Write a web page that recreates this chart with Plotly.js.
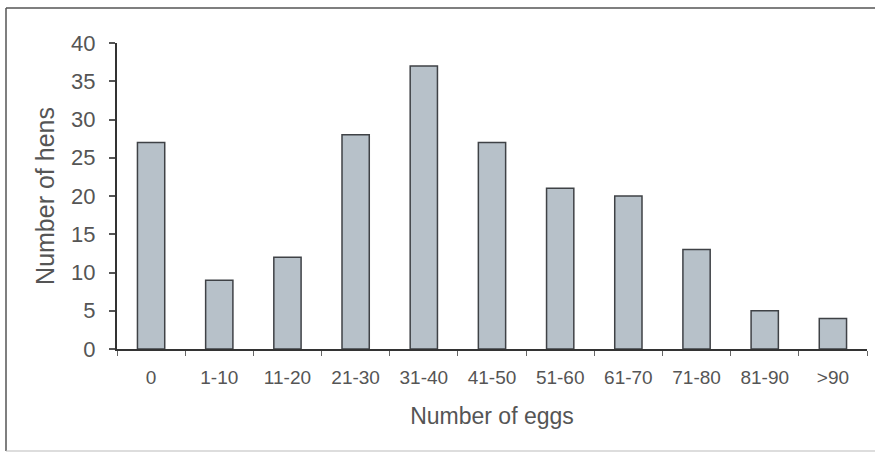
<!DOCTYPE html>
<html>
<head>
<meta charset="utf-8">
<script src="https://cdn.plot.ly/plotly-3.0.1.min.js"></script>
<style>html,body{margin:0;padding:0;background:#fff;}</style>
</head>
<body>
<div id="chart" style="width:875px;height:453px;"></div>
<script>
const categories = ["0", "1-10", "11-20", "21-30", "31-40", "41-50", "51-60", "61-70", "71-80", "81-90", ">90"];
const hens = [27, 9, 12, 28, 37, 27, 21, 20, 13, 5, 4];
const yTicks = [0, 5, 10, 15, 20, 25, 30, 35, 40];

const trace = {
  type: "bar",
  x: categories,
  y: hens,
  marker: {color: "#b7c1c9", line: {color: "#3f4246", width: 1.5}},
  hoverinfo: "x+y"
};

const layout = {
  width: 875, height: 453,
  margin: {l: 117, r: 8, t: 43, b: 104},
  paper_bgcolor: "#ffffff",
  plot_bgcolor: "#ffffff",
  bargap: 0.6,
  showlegend: false,
  font: {family: "Liberation Sans, Arial, sans-serif", color: "#555555"},
  xaxis: {
    type: "category",
    showgrid: false, zeroline: false,
    showline: true, linecolor: "#333333", linewidth: 2,
    ticks: "outside", tickson: "boundaries", ticklen: 5, tickcolor: "#666666", tickwidth: 1,
    ticklabelstandoff: 10,
    tickfont: {size: 19, color: "#555555"},
    title: {text: "Number of eggs", font: {size: 23, color: "#555555"}, standoff: 21}
  },
  yaxis: {
    range: [0, 40],
    tickvals: yTicks,
    showgrid: false, zeroline: false,
    showline: true, linecolor: "#333333", linewidth: 2,
    ticks: "outside", ticklen: 6, tickcolor: "#555555", tickwidth: 2,
    ticklabelstandoff: 9,
    tickfont: {size: 22, color: "#555555"},
    title: {text: "Number of hens", font: {size: 25, color: "#555555"}, standoff: 9}
  },
  shapes: [
    {type: "line", xref: "paper", yref: "paper", x0: -111/750, x1: 1.02, y0: 1 + 35/306, y1: 1 + 35/306, line: {color: "#555555", width: 1.5}},
    {type: "line", xref: "paper", yref: "paper", x0: -111/750, x1: -111/750, y0: 1 + 35/306, y1: -102/306, line: {color: "#555555", width: 1.5}},
    {type: "line", xref: "paper", yref: "paper", x0: -111/750, x1: 1.02, y0: -102/306, y1: -102/306, line: {color: "#bbbbbb", width: 1}}
  ]
};

Plotly.newPlot("chart", [trace], layout, {displayModeBar: false, staticPlot: true});
</script>
</body>
</html>
